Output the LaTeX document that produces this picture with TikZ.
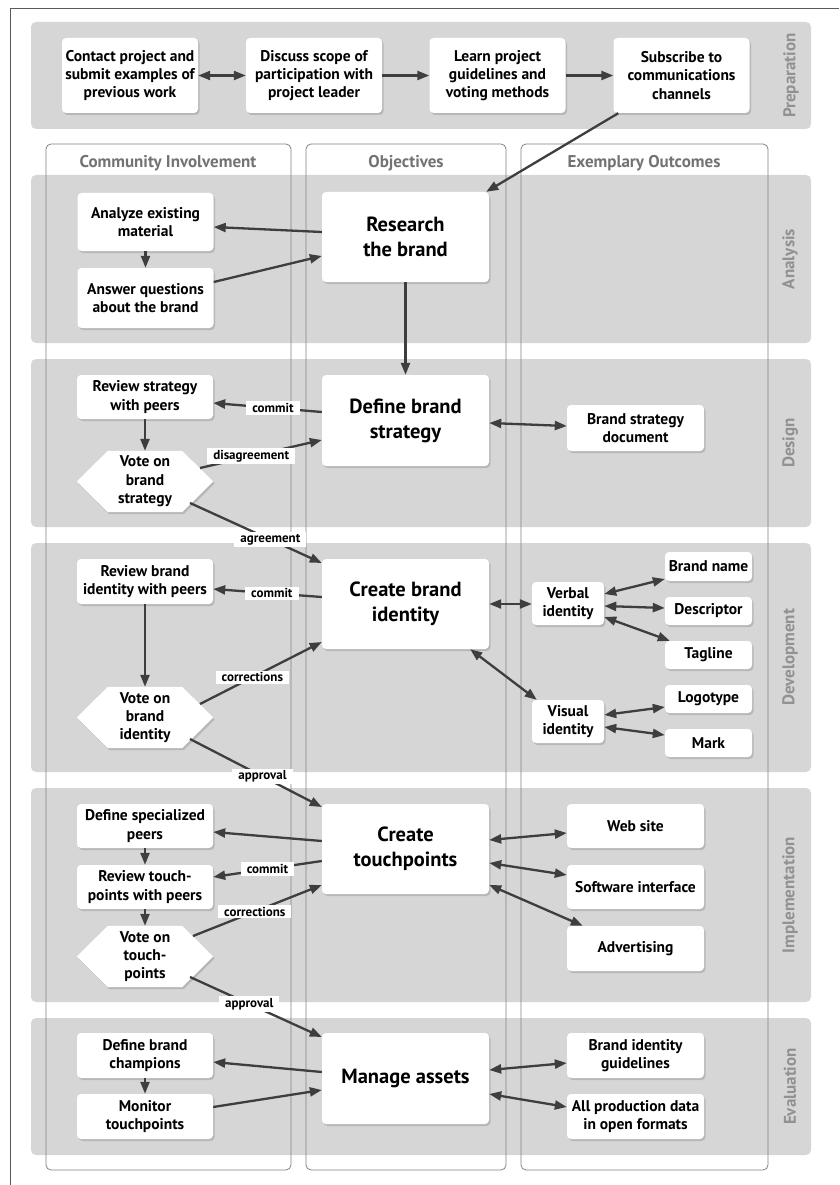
\documentclass[tikz,border=0pt]{standalone}
\usepackage{fontspec}
\setmainfont{PT Sans}
\usetikzlibrary{arrows.meta,calc,shadows}

\definecolor{bandgray}{RGB}{214,214,214}
\definecolor{colline}{RGB}{130,130,130}
\definecolor{headgray}{RGB}{115,115,115}
\definecolor{phasegray}{RGB}{145,145,145}
\definecolor{arrowgray}{RGB}{62,62,62}
\definecolor{framegray}{RGB}{90,90,90}

\pgfdeclarelayer{bands}
\pgfdeclarelayer{shapes}
\pgfsetlayers{bands,shapes,main}

% hexagonal outline around a voting node
\newcommand\hexframe[1]{%
  \begin{pgfonlayer}{shapes}
    \path[hexshape] (#1.west) -- ($(#1.north west)+(31,0)$) -- ($(#1.north east)+(-31,0)$)
      -- (#1.east) -- ($(#1.south east)+(-31,0)$) -- ($(#1.south west)+(31,0)$) -- cycle;
  \end{pgfonlayer}}

\begin{document}
\begin{tikzpicture}[x=1pt,y=-1pt,
  band/.style={fill=bandgray, rounded corners=5pt},
  column/.style={draw=colline, line width=0.8pt, rounded corners=5pt},
  header/.style={font=\bfseries\fontsize{17}{20}\selectfont, text=headgray},
  phase/.style={font=\bfseries\fontsize{17}{20}\selectfont, text=phasegray, rotate=90},
  shade/.style={drop shadow={shadow xshift=1.5pt, shadow yshift=-2pt, opacity=0.35}},
  box/.style={fill=white, rounded corners=4pt, align=center, inner sep=0pt, shade,
    font=\bfseries\fontsize{15.5}{18.3}\selectfont},
  pbox/.style={box, minimum width=136pt, minimum height=75pt},
  cbox/.style={box, minimum width=136pt, minimum height=44pt},
  obox/.style={box, minimum width=167pt, minimum height=90pt,
    font=\bfseries\fontsize{20.5}{25}\selectfont},
  ebox/.style={box, minimum width=137pt, minimum height=45pt},
  sbox/.style={box, minimum width=87pt, minimum height=28pt},
  ibox/.style={box, minimum width=72pt, minimum height=43pt},
  hexnode/.style={minimum width=136pt, minimum height=61pt, inner sep=0pt, align=center,
    font=\bfseries\fontsize{15.5}{18.3}\selectfont},
  hexshape/.style={fill=white, shade},
  tip/.style={},
  arr/.style={draw=arrowgray, line width=2.3pt, -{Triangle[length=12pt,width=9pt]}},
  darr/.style={draw=arrowgray, line width=2.3pt, {Triangle[length=12pt,width=9pt]}-{Triangle[length=12pt,width=9pt]}},
  lbl/.style={fill=white, inner xsep=6pt, inner ysep=2pt, font=\bfseries\fontsize{13}{15}\selectfont}
]
\useasboundingbox (0,0) rectangle (839,1185);

\begin{pgfonlayer}{bands}
  \fill[white] (0,0) rectangle (839,1185);
  \draw[framegray, line width=0.9pt] (10,1185) -- (10,8) -- (839,8);
  % phase bands
  \fill[band] (31,22) rectangle (811,129);
  \fill[band] (31,175) rectangle (811,343);
  \fill[band] (31,359) rectangle (811,527);
  \fill[band] (31,543) rectangle (811,772);
  \fill[band] (31,788) rectangle (811,1002);
  \fill[band] (31,1018) rectangle (811,1155);
  % swimlane columns
  \draw[column] (46,144) rectangle (291,1170);
  \draw[column] (306,144) rectangle (506,1170);
  \draw[column] (521,144) rectangle (768,1170);
\end{pgfonlayer}

% column headers
\node[header] (hci) at (168,163) {Community Involvement};
\node[header] (hob) at (406,163) {Objectives};
\node[header] (heo) at (644,163) {Exemplary Outcomes};

% phase names
\node[phase] (lprep) at (791,75.5) {Preparation};
\node[phase] (lana) at (790,259) {Analysis};
\node[phase] (ldes) at (790,443) {Design};
\node[phase] (ldev) at (790,657.5) {Development};
\node[phase] (limp) at (790,895) {Implementation};
\node[phase] (leva) at (790,1086.5) {Evaluation};

% preparation
\node[pbox] (p1) at (130,75.5) {Contact project and\\submit examples of\\previous work};
\node[pbox] (p2) at (314,75.5) {Discuss scope of\\participation with\\project leader};
\node[pbox] (p3) at (497.5,75.5) {Learn project\\guidelines and\\voting methods};
\node[pbox] (p4) at (681.5,75.5) {Subscribe to\\communications\\channels};

% analysis
\node[cbox, minimum height=58pt] (a1) at (145.5,222) {Analyze existing\\material};
\node[cbox, minimum height=60pt] (a2) at (145.5,298) {Answer questions\\about the brand};
\node[obox] (res) at (405.5,237) {Research\\the brand};

% design
\node[cbox] (d1) at (145,397) {Review strategy\\with peers};
\node[hexnode] (d2) at (145,481.5) {Vote on\\brand\\strategy};
\hexframe{d2}
\node[obox, minimum height=91pt] (def) at (405.5,420.5) {Define brand\\strategy};
\node[ebox, minimum height=46pt] (bsd) at (635.5,428) {Brand strategy\\document};

% development
\node[cbox, minimum height=45pt] (v1) at (145,581.5) {Review brand\\identity with peers};
\node[hexnode] (v2) at (145,717.5) {Vote on\\brand\\identity};
\hexframe{v2}
\node[obox] (cbi) at (405.5,604) {Create brand\\identity};
\node[ibox] (vi) at (568,603.5) {Verbal\\identity};
\node[sbox, minimum height=29pt] (bn) at (708.5,566.5) {Brand name};
\node[sbox] (de) at (708.5,611) {Descriptor};
\node[sbox] (tg) at (708.5,655) {Tagline};
\node[ibox] (vs) at (568,721.5) {Visual\\identity};
\node[sbox] (lg) at (708.5,699) {Logotype};
\node[sbox] (mk) at (708.5,743) {Mark};

% implementation
\node[cbox] (i1) at (145,826) {Define specialized\\peers};
\node[cbox] (i2) at (145,887) {Review touch-\\points with peers};
\node[hexnode] (i3) at (145,956.5) {Vote on\\touch-\\points};
\hexframe{i3}
\node[obox] (ctp) at (405.5,849) {Create\\touchpoints};
\node[ebox, minimum height=44pt] (ws) at (635.5,826) {Web site};
\node[ebox, minimum height=44pt] (si) at (635.5,887) {Software interface};
\node[ebox] (ad) at (635.5,948.5) {Advertising};

% evaluation
\node[cbox, minimum height=45pt] (e1) at (145,1055.5) {Define brand\\champions};
\node[cbox, minimum height=45pt] (e2) at (145,1116.5) {Monitor\\touchpoints};
\node[obox, minimum height=91pt] (ma) at (405.5,1078.5) {Manage assets};
\node[ebox] (big) at (635.5,1055.5) {Brand identity\\guidelines};
\node[ebox] (apd) at (635.5,1116.5) {All production data\\in open formats};

% ---- connectors: preparation
\draw[darr] (p1) -- (p2);
\draw[arr] (p2) -- (p3);
\draw[arr] (p3) -- (p4);
\draw[arr] ($(p4.south west)+(5,0)$) -- ($(res.north east)+(-3,0)$);

% ---- analysis
\draw[arr] ($(res.west)+(0,-5)$) -- ($(a1.east)+(0,5)$);
\draw[arr] ($(a2.east)+(0,-16)$) -- ($(res.west)+(0,19)$);
\draw[arr] (a1) -- (a2);
\draw[arr] (res) -- (def);

% ---- design
\draw[arr] ($(def.west)+(0,-8.5)$) -- node[lbl,pos=.45]{commit} ($(d1.east)+(0,6)$);
\draw[arr] (d1) -- (d2);
\draw[arr] ($(d2.center)+(55,-13.5)$) -- node[lbl,pos=.42]{disagreement} ($(def.west)+(0,19.5)$);
\draw[arr] ($(d2.center)+(45,21.5)$) -- node[lbl,pos=.61]{agreement} ($(cbi.west)+(0,-41)$);
\draw[darr] ($(def.east)+(0,2.5)$) -- ($(bsd.west)+(0,-2)$);

% ---- development
\draw[arr] ($(cbi.west)+(0,-7)$) -- node[lbl,pos=.46]{commit} ($(v1.east)+(0,7.5)$);
\draw[arr] (v1) -- (v2);
\draw[arr] ($(v2.center)+(55,-13.5)$) -- node[lbl,pos=.43]{corrections} ($(cbi.west)+(0,38)$);
\draw[arr] ($(v2.center)+(45,21.5)$) -- node[lbl,pos=.55]{approval} ($(ctp.west)+(0,-42)$);
\draw[darr] (cbi.east) -- ($(vi.west)+(0,0.5)$);
\draw[darr] ($(vi.east)+(0,-9.5)$) -- ($(bn.west)+(0,12.5)$);
\draw[darr] ($(vi.east)+(0,2.5)$) -- ($(de.west)+(0,-3)$);
\draw[darr] ($(vi.east)+(0,13.5)$) -- ($(tg.north west)+(5,0)$);
\draw[darr] ($(cbi.south east)+(-19,0)$) -- ($(vs.north west)+(5,0)$);
\draw[darr] ($(vs.east)+(0,-6.5)$) -- ($(lg.west)+(0,8)$);
\draw[darr] ($(vs.east)+(0,5.5)$) -- ($(mk.west)+(0,-8)$);

% ---- implementation
\draw[arr] ($(ctp.west)+(0,-8)$) -- ($(i1.east)+(0,6)$);
\draw[arr] ($(ctp.west)+(0,12)$) -- node[lbl,pos=.5]{commit} ($(i2.east)+(0,-10)$);
\draw[arr] (i1) -- (i2);
\draw[arr] (i2) -- (i3);
\draw[arr] ($(i3.center)+(48,-20.5)$) -- node[lbl,pos=.48]{corrections} ($(ctp.west)+(0,36)$);
\draw[arr] ($(i3.center)+(45,20.5)$) -- node[lbl,pos=.45]{approval} ($(ma.west)+(0,-41.5)$);
\draw[darr] ($(ctp.east)+(0,-9)$) -- ($(ws.west)+(0,7)$);
\draw[darr] ($(ctp.east)+(0,14)$) -- ($(si.west)+(0,-12)$);
\draw[darr] ($(ctp.east)+(0,36)$) -- ($(ad.north west)+(16,0)$);

% ---- evaluation
\draw[arr] ($(ma.west)+(0,-6.5)$) -- ($(e1.east)+(0,6.5)$);
\draw[arr] ($(e2.east)+(0,-9.5)$) -- ($(ma.west)+(0,11.5)$);
\draw[arr] (e1) -- (e2);
\draw[darr] ($(ma.east)+(0,-8.5)$) -- ($(big.west)+(0,7.5)$);
\draw[darr] ($(ma.east)+(0,15.5)$) -- ($(apd.west)+(0,-9.5)$);
\end{tikzpicture}
\end{document}
